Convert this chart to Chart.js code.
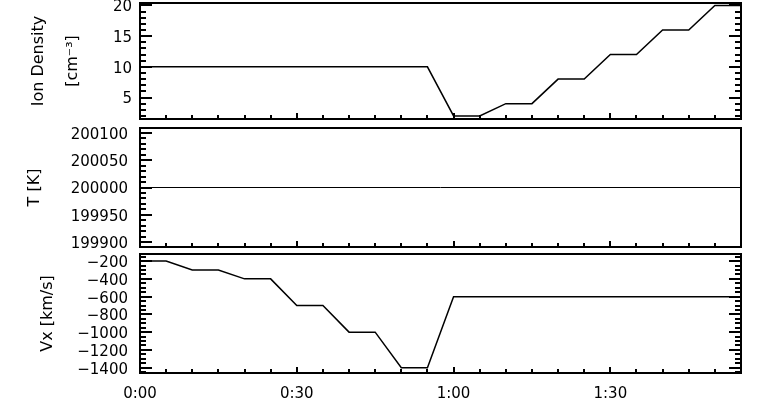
<!DOCTYPE html>
<html>
<head>
<meta charset="utf-8">
<script src="https://cdn.jsdelivr.net/npm/chart.js@4"></script>
<style>
  body { margin: 0; background: #fff; }
  canvas { position: absolute; left: 0; }
</style>
</head>
<body>
<canvas id="graficaDensidad" width="772" height="125" style="top:0px"></canvas>
<canvas id="graficaTemperatura" width="772" height="125" style="top:124px"></canvas>
<canvas id="graficaVelocidad" width="772" height="167" style="top:250px"></canvas>
<script>
// tiempo en minutos
const tiempoDensidad = [0, 55, 60, 65, 70, 75, 80, 85, 90, 95, 100, 105, 110, 115];
const densidad = [10, 10, 2, 2, 4, 4, 8, 8, 12, 12, 16, 16, 20, 20]; // cm-3

const tiempoTemperatura = [0, 115];
const temperatura = [200000, 200000]; // K

const tiempoVelocidad = [0, 5, 10, 15, 20, 25, 30, 35, 40, 45, 50, 55, 60, 115];
const velocidadX = [-200, -200, -300, -300, -400, -400, -700, -700, -1000, -1000, -1400, -1400, -600, -600]; // km/s

const etiquetasTiempo = [0, 30, 60, 90]; // 0:00 0:30 1:00 1:30

const fuente = "'DejaVu Sans', sans-serif";

// marcas cada "paso" entre desde y hasta
function marcas(desde, hasta, paso) {
    let lista = [];
    for (let v = desde; v <= hasta + 1e-9; v += paso) lista.push({ value: v });
    return lista;
}

function esMultiplo(v, paso) {
    return Math.abs(v / paso - Math.round(v / paso)) < 1e-6;
}

// marco y marcas hacia dentro, estilo IDL
const ejesIDL = {
    id: 'ejesIDL',
    afterDraw(chart, args, opts) {
        const ctx = chart.ctx;
        const a = chart.chartArea;
        const x = chart.scales.x;
        const y = chart.scales.y;
        ctx.save();
        ctx.strokeStyle = '#000';
        ctx.lineWidth = 2;
        ctx.beginPath();
        y.ticks.forEach(t => {
            const py = Math.round(y.getPixelForValue(t.value));
            const largo = esMultiplo(t.value, opts.mayorY) ? 12 : 6;
            ctx.moveTo(a.left, py);
            ctx.lineTo(a.left + largo, py);
            if (opts.derecha) {
                ctx.moveTo(a.right, py);
                ctx.lineTo(a.right - largo, py);
            }
        });
        x.ticks.forEach(t => {
            const px = Math.round(x.getPixelForValue(t.value));
            const largo = etiquetasTiempo.includes(t.value) ? 6 : 4;
            ctx.moveTo(px, a.bottom);
            ctx.lineTo(px, a.bottom - largo);
        });
        ctx.stroke();
        ctx.strokeRect(a.left, a.top, a.right - a.left, a.bottom - a.top);
        ctx.restore();
    }
};

function formatoTiempo(v) {
    return Math.floor(v / 60) + ':' + String(v % 60).padStart(2, '0');
}

function opciones(c) {
    return {
        responsive: false,
        animation: false,
        devicePixelRatio: 1,
        layout: { padding: { top: c.arriba, right: 31, left: 0, bottom: 0 } },
        plugins: {
            legend: { display: false },
            tooltip: { enabled: false },
            ejesIDL: { mayorY: c.mayorY, derecha: c.derecha }
        },
        scales: {
            x: {
                type: 'linear',
                min: 0,
                max: 115,
                grid: { display: false, drawTicks: false },
                border: { display: false },
                afterBuildTicks: s => { s.ticks = marcas(0, 115, 5); },
                afterFit: s => { s.height = c.altoX; s.paddingLeft = 0; s.paddingRight = 0; },
                ticks: {
                    display: c.etiquetasX,
                    autoSkip: false,
                    maxRotation: 0,
                    padding: 12,
                    color: '#000',
                    font: { family: fuente, size: 15 },
                    callback: v => etiquetasTiempo.includes(v) ? formatoTiempo(v) : ''
                }
            },
            y: {
                min: c.min,
                max: c.max,
                grid: { display: false, drawTicks: false },
                border: { display: false },
                afterBuildTicks: s => { s.ticks = marcas(c.desde, c.hasta, c.menorY); },
                afterFit: s => { s.width = 140; s.paddingTop = 0; s.paddingBottom = 0; },
                ticks: {
                    autoSkip: false,
                    padding: c.separacion,
                    labelOffset: 2,
                    color: '#000',
                    font: { family: fuente, size: 15 },
                    callback: v => esMultiplo(v, c.mayorY) ? (v < 0 ? '\u2212' + Math.abs(v) : String(v)) : ''
                },
                title: {
                    display: true,
                    text: c.titulo,
                    color: '#000',
                    padding: { top: c.posTitulo, bottom: 0 },
                    font: { family: fuente, size: 16, lineHeight: c.altoLinea }
                }
            }
        }
    };
}

function serie(t, v, grosor) {
    return {
        data: t.map((ti, i) => ({ x: ti, y: v[i] })),
        borderColor: '#000',
        borderWidth: grosor,
        pointRadius: 0,
        tension: 0,
        fill: false
    };
}

var grafica1 = new Chart(document.getElementById('graficaDensidad'), {
    type: 'line',
    data: { datasets: [serie(tiempoDensidad, densidad, 1.5)] },
    options: opciones({
        min: 1.5, max: 20.4, desde: 2, hasta: 20, menorY: 1, mayorY: 5, arriba: 3,
        derecha: true, etiquetasX: false, altoX: 6, separacion: 8,
        titulo: ['Ion Density', '[cm\u207B\u00B3]'], posTitulo: 22, altoLinea: 2.1
    }),
    plugins: [ejesIDL]
});

var grafica2 = new Chart(document.getElementById('graficaTemperatura'), {
    type: 'line',
    data: { datasets: [serie(tiempoTemperatura, temperatura, 1)] },
    options: opciones({
        min: 199891, max: 200109, desde: 199900, hasta: 200100, menorY: 10, mayorY: 50, arriba: 4,
        derecha: false, etiquetasX: false, altoX: 2, separacion: 12,
        titulo: 'T [K]', posTitulo: 25, altoLinea: 1.2
    }),
    plugins: [ejesIDL]
});

var grafica3 = new Chart(document.getElementById('graficaVelocidad'), {
    type: 'line',
    data: { datasets: [serie(tiempoVelocidad, velocidadX, 1.5)] },
    options: opciones({
        min: -1460, max: -120, desde: -1450, hasta: -150, menorY: 50, mayorY: 200, arriba: 4,
        derecha: true, etiquetasX: true, altoX: 44, separacion: 12,
        titulo: 'Vx [km/s]', posTitulo: 38, altoLinea: 1.2
    }),
    plugins: [ejesIDL]
});
</script>
</body>
</html>
